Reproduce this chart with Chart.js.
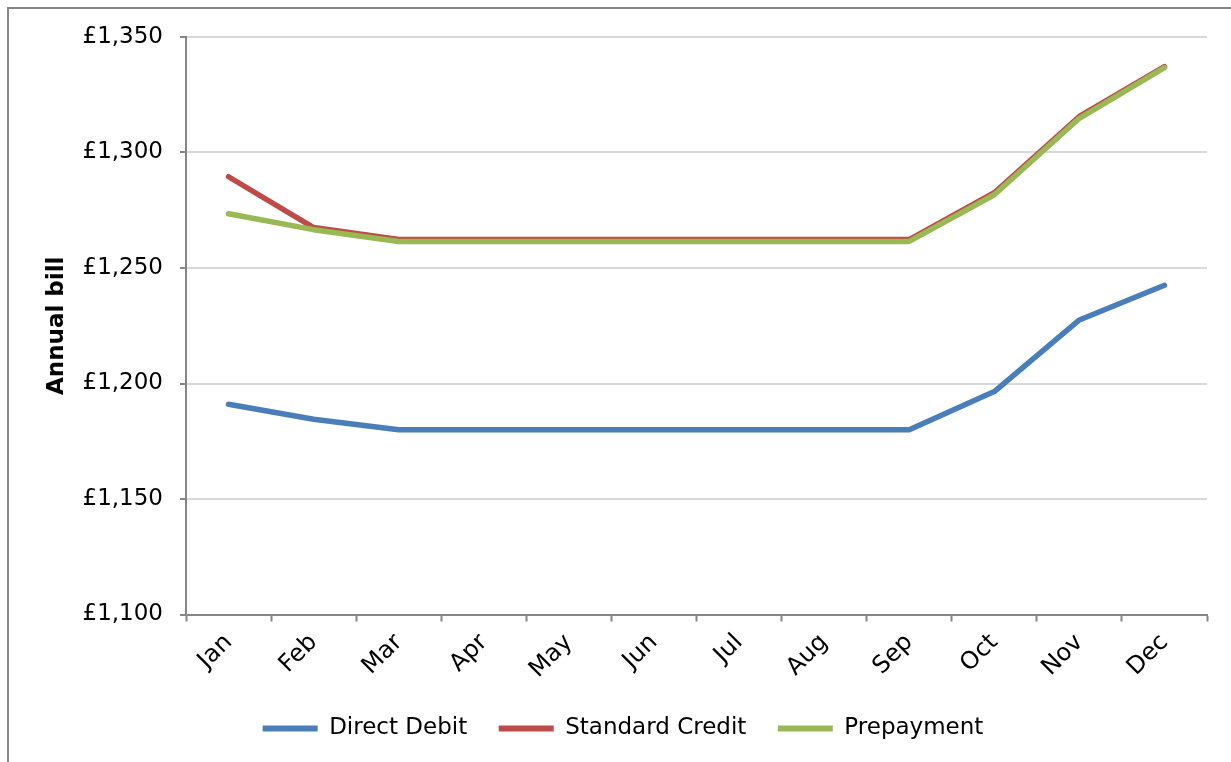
<!DOCTYPE html>
<html>
<head>
<meta charset="utf-8">
<script src="https://cdn.jsdelivr.net/npm/chart.js@4/dist/chart.umd.min.js"></script>
<style>
  html, body { margin: 0; padding: 0; overflow: hidden; background: #fff; }
  #frame {
    position: absolute; left: 7px; top: 7px; width: 1260px; height: 800px;
    border-left: 2px solid #868686; border-top: 2px solid #868686;
  }
  #wrap { position: absolute; left: 0; top: 0; width: 1231px; height: 750px; }
</style>
</head>
<body>
<div id="frame"></div>
<div id="wrap"><canvas id="billChart"></canvas></div>
<script>
const months = ['Jan', 'Feb', 'Mar', 'Apr', 'May', 'Jun', 'Jul', 'Aug', 'Sep', 'Oct', 'Nov', 'Dec'];
const directDebit = [1191, 1184.5, 1180, 1180, 1180, 1180, 1180, 1180, 1180, 1196.5, 1227.5, 1242.5];
const standardCredit = [1289.5, 1267.5, 1262.3, 1262.3, 1262.3, 1262.3, 1262.3, 1262.3, 1262.3, 1282.6, 1315.6, 1337.2];
const prepayment = [1273.5, 1266.6, 1261.5, 1261.5, 1261.5, 1261.5, 1261.5, 1261.5, 1261.5, 1281.7, 1314.8, 1336.7];
const yTicks = [1100, 1150, 1200, 1250, 1300, 1350];

const font = "'DejaVu Sans', Verdana, sans-serif";
const axisGray = '#868686';

// later series sit on top, like the original
function series(label, data, color, order) {
    return {
        label: label,
        data: data,
        order: order,
        borderColor: color,
        backgroundColor: color,
        borderWidth: 5.5,
        pointRadius: 0,
        tension: 0,
        borderCapStyle: 'round',
        borderJoinStyle: 'round'
    };
}

const ctx = document.getElementById('billChart');
new Chart(ctx, {
    type: 'line',
    data: {
        labels: months,
        datasets: [
            series('Direct Debit', directDebit, '#4a7ebb', 2),
            series('Standard Credit', standardCredit, '#be4b48', 1),
            series('Prepayment', prepayment, '#98b954', 0)
        ]
    },
    options: {
        responsive: true,
        maintainAspectRatio: false,
        animation: false,
        layout: { padding: { left: 39, top: 37, right: 24, bottom: 0 } },
        plugins: {
            tooltip: { enabled: false },
            legend: {
                position: 'bottom',
                labels: {
                    boxWidth: 55,
                    boxHeight: 6,
                    padding: 31.5,
                    color: '#000',
                    font: { family: font, size: 23 },
                    generateLabels: chart => chart.data.datasets.map((ds, i) => ({
                        text: ds.label,
                        fillStyle: ds.borderColor,
                        strokeStyle: ds.borderColor,
                        lineWidth: 0,
                        datasetIndex: i,
                        hidden: false
                    }))
                }
            }
        },
        scales: {
            x: {
                offset: true,
                grid: {
                    offset: true,
                    drawOnChartArea: false,
                    tickLength: 7,
                    tickColor: axisGray,
                    tickWidth: 2
                },
                border: { color: axisGray, width: 2 },
                ticks: {
                    color: '#000',
                    font: { family: font, size: 24 },
                    minRotation: 45,
                    maxRotation: 45,
                    padding: 7
                },
                afterFit: scale => { scale.height = 71; }
            },
            y: {
                min: 1100,
                max: 1350,
                afterBuildTicks: scale => { scale.ticks = yTicks.map(v => ({ value: v })); },
                grid: {
                    color: '#d9d9d9',
                    lineWidth: 2,
                    tickLength: 6,
                    tickColor: axisGray,
                    tickWidth: 2
                },
                border: { color: axisGray, width: 2 },
                ticks: {
                    color: '#000',
                    font: { family: font, size: 23 },
                    padding: 17,
                    callback: v => '£' + v.toLocaleString('en-GB')
                },
                title: {
                    display: true,
                    text: 'Annual bill',
                    color: '#000',
                    font: { family: font, size: 23, weight: 'bold' },
                    padding: { top: 4, bottom: 0 }
                },
                afterFit: scale => { scale.width = 147; }
            }
        }
    }
});
</script>
</body>
</html>
